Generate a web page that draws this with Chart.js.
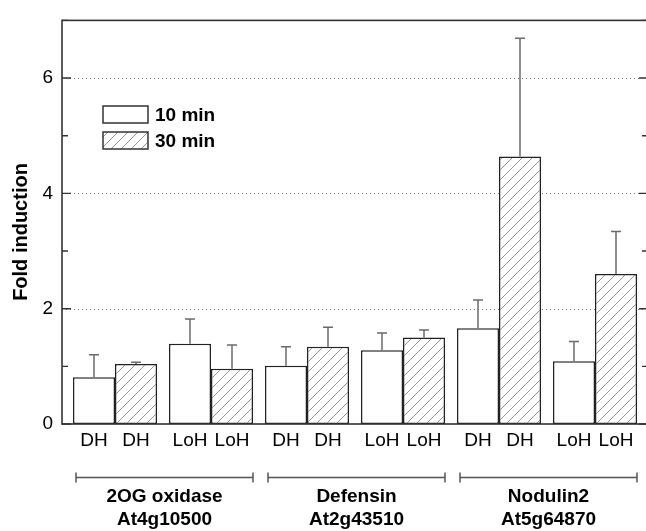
<!DOCTYPE html>
<html>
<head>
<meta charset="utf-8">
<script src="https://cdn.jsdelivr.net/npm/chart.js@4"></script>
<style>
  html, body { margin: 0; padding: 0; overflow: hidden; background: #fff; }
  canvas { display: block; }
</style>
</head>
<body>
<canvas id="chart" width="652" height="531"></canvas>
<script>
// ---- data ----
var pairLabels   = ['DH', 'LoH', 'DH', 'LoH', 'DH', 'LoH'];
var seriesNames  = ['10 min', '30 min'];
var tenMin       = [0.81, 1.39, 1.01, 1.28, 1.66, 1.09];
var tenMinErr    = [0.39, 0.43, 0.33, 0.30, 0.49, 0.34];
var thirtyMin    = [1.04, 0.96, 1.34, 1.50, 4.64, 2.60];
var thirtyMinErr = [0.03, 0.41, 0.34, 0.13, 2.05, 0.74];
var geneNames    = ['2OG oxidase', 'Defensin', 'Nodulin2'];
var geneIds      = ['At4g10500', 'At2g43510', 'At5g64870'];
var yMax = 7;
var yMajor = [0, 2, 4, 6];

var FONT = "'Liberation Sans', Arial, sans-serif";
var INK = '#000';
var FRAME = '#333';

// diagonal hatch for the 30 min bars
function hatch() {
  var c = document.createElement('canvas');
  c.width = 10; c.height = 10;
  var g = c.getContext('2d');
  g.fillStyle = '#fff'; g.fillRect(0, 0, 10, 10);
  g.strokeStyle = '#8a8a8a'; g.lineWidth = 0.9;
  g.beginPath();
  g.moveTo(0, 10); g.lineTo(10, 0);
  g.moveTo(-5, 5); g.lineTo(5, -5);
  g.moveTo(5, 15); g.lineTo(15, 5);
  g.stroke();
  return g.createPattern(c, 'repeat');
}
var hatchFill = hatch();

function pts(vals) {
  return vals.map(function (v, i) { return { x: i, y: v }; });
}
var errs = [tenMinErr, thirtyMinErr];

// gridlines + frame + inward ticks
var framePlugin = {
  id: 'frame',
  beforeDatasetsDraw: function (chart) {
    var ctx = chart.ctx, a = chart.chartArea, y = chart.scales.y;
    ctx.save();
    ctx.strokeStyle = '#777'; ctx.lineWidth = 1;
    ctx.setLineDash([1, 3]);
    yMajor.forEach(function (v) {
      if (v === 0) return;
      var py = Math.round(y.getPixelForValue(v)) + 0.5;
      ctx.beginPath(); ctx.moveTo(a.left, py); ctx.lineTo(a.right, py); ctx.stroke();
    });
    ctx.restore();
  },
  afterDatasetsDraw: function (chart) {
    var ctx = chart.ctx, a = chart.chartArea, y = chart.scales.y;
    ctx.save();
    ctx.strokeStyle = FRAME; ctx.lineWidth = 1.6;
    ctx.strokeRect(a.left, a.top, a.right - a.left, a.bottom - a.top);
    ctx.lineWidth = 1.4;
    for (var v = 0; v <= yMax; v++) {
      var py = y.getPixelForValue(v);
      var len = (v % 2 === 0) ? 9 : 6;
      ctx.beginPath();
      ctx.moveTo(a.left, py); ctx.lineTo(a.left + len, py);
      ctx.moveTo(a.right, py); ctx.lineTo(a.right - len, py);
      ctx.stroke();
    }
    ctx.restore();
  }
};

// upward error bars
var errorPlugin = {
  id: 'errors',
  afterDatasetsDraw: function (chart) {
    var ctx = chart.ctx, y = chart.scales.y;
    ctx.save();
    ctx.strokeStyle = '#6b6b6b'; ctx.lineWidth = 1.5;
    chart.data.datasets.forEach(function (ds, d) {
      chart.getDatasetMeta(d).data.forEach(function (bar, i) {
        var top = y.getPixelForValue(ds.data[i].y + errs[d][i]);
        ctx.beginPath();
        ctx.moveTo(bar.x, bar.y); ctx.lineTo(bar.x, top);
        ctx.moveTo(bar.x - 5, top); ctx.lineTo(bar.x + 5, top);
        ctx.stroke();
      });
    });
    ctx.restore();
  }
};

// category labels, gene brackets, legend, y title
var labelPlugin = {
  id: 'labels',
  afterDraw: function (chart) {
    var ctx = chart.ctx, a = chart.chartArea;
    var m0 = chart.getDatasetMeta(0).data, m1 = chart.getDatasetMeta(1).data;
    ctx.save();
    ctx.fillStyle = INK;
    ctx.textAlign = 'center'; ctx.textBaseline = 'middle';
    ctx.font = '19px ' + FONT;
    pairLabels.forEach(function (lab, i) {
      ctx.fillText(lab, m0[i].x, a.bottom + 17);
      ctx.fillText(lab, m1[i].x, a.bottom + 17);
    });

    // gene brackets
    ctx.strokeStyle = '#555'; ctx.lineWidth = 1.5;
    geneNames.forEach(function (name, g) {
      var b0 = m0[2 * g], b1 = m1[2 * g + 1];
      var x1 = b0.x - b0.width / 2 + 3, x2 = b1.x + b1.width / 2;
      var by = a.bottom + 53.5;
      ctx.beginPath();
      ctx.moveTo(x1, by); ctx.lineTo(x2, by);
      ctx.moveTo(x1, by - 5); ctx.lineTo(x1, by + 5);
      ctx.moveTo(x2, by - 5); ctx.lineTo(x2, by + 5);
      ctx.stroke();
      ctx.font = 'bold 19px ' + FONT;
      var cx = (x1 + x2) / 2;
      ctx.fillText(name, cx, a.bottom + 73);
      ctx.fillText(geneIds[g], cx, a.bottom + 96);
    });

    // legend
    var fills = ['#fff', hatchFill];
    ctx.textAlign = 'left';
    ctx.font = 'bold 19px ' + FONT;
    seriesNames.forEach(function (s, i) {
      var ty = 106 + i * 26;
      ctx.fillStyle = fills[i];
      ctx.fillRect(103, ty, 45, 17);
      ctx.strokeStyle = FRAME; ctx.lineWidth = 1.5;
      ctx.strokeRect(103, ty, 45, 17);
      ctx.fillStyle = INK;
      ctx.fillText(s, 155, ty + 9.5);
    });

    // y title
    ctx.font = 'bold 20px ' + FONT;
    ctx.translate(21, 232);
    ctx.rotate(-Math.PI / 2);
    ctx.textAlign = 'center';
    ctx.fillText('Fold induction', 0, 0);
    ctx.restore();
  }
};

var slotPad = 5 / 96;

new Chart(document.getElementById('chart'), {
  type: 'bar',
  data: {
    datasets: [
      { label: seriesNames[0], data: pts(tenMin), backgroundColor: '#fff',
        borderColor: '#222', borderWidth: 1.5, borderSkipped: false },
      { label: seriesNames[1], data: pts(thirtyMin), backgroundColor: hatchFill,
        borderColor: '#222', borderWidth: 1.5, borderSkipped: false }
    ]
  },
  options: {
    responsive: false,
    animation: false,
    layout: { padding: { left: 0, top: 15, right: 4, bottom: 107 } },
    datasets: { bar: { categoryPercentage: 0.875, barPercentage: 1 } },
    plugins: { legend: { display: false }, tooltip: { enabled: false } },
    scales: {
      x: {
        type: 'linear', display: false, offset: false,
        min: -0.5 - slotPad, max: pairLabels.length - 0.5 + slotPad
      },
      y: {
        min: 0, max: yMax,
        afterFit: function (s) { s.width = 62; },
        grid: { display: false, drawTicks: false },
        border: { display: false },
        ticks: {
          stepSize: 1, autoSkip: false, padding: 9, color: INK,
          font: { family: FONT, size: 19 },
          callback: function (v) { return v % 2 === 0 ? v : ''; }
        }
      }
    }
  },
  plugins: [framePlugin, errorPlugin, labelPlugin]
});
</script>
</body>
</html>
